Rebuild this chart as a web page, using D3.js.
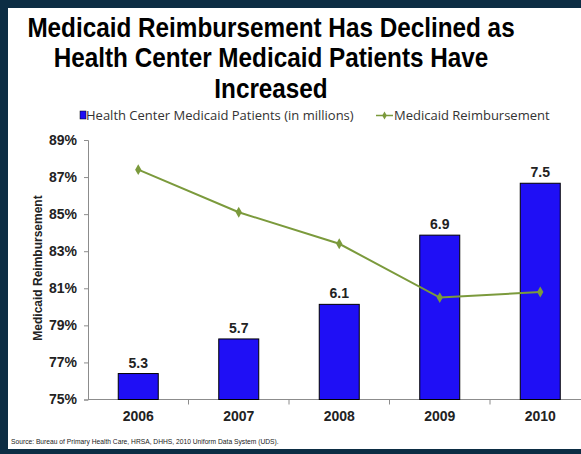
<html>
<style>
  body { margin: 0; background: #fff; }
</style>
<body>
<script src="https://d3js.org/d3.v7.min.js" charset="utf-8"></script>
<svg id="chart" width="581" height="454"></svg>
<script>
// chart data
var years = ["2006", "2007", "2008", "2009", "2010"];
var patients = [5.3, 5.7, 6.1, 6.9, 7.5];
var reimbursement = [87.4, 85.1, 83.4, 80.5, 80.8];
var yTicks = [75, 77, 79, 81, 83, 85, 87, 89];
var titleLines = ["Medicaid Reimbursement Has Declined as", "Health Center Medicaid Patients Have", "Increased"];

var svg = d3.select("#chart");

// frame
svg.append("rect").attr("x", 0).attr("y", 0).attr("width", 581).attr("height", 454).attr("fill", "#0c2d44");
svg.append("rect").attr("x", 8).attr("y", 8).attr("width", 600).attr("height", 441).attr("fill", "#fff");

// title (slightly condensed like the original)
svg.append("g").attr("transform", "translate(271,0) scale(0.9,1)")
  .selectAll(".title").data(titleLines).enter().append("text")
  .attr("x", 0).attr("y", function(d, i) { return 37 + i * 30.5; })
  .attr("text-anchor", "middle")
  .style("font-family", "Liberation Sans, Arial, sans-serif")
  .style("font-weight", "bold").style("font-size", "27px")
  .text(function(d) { return d; });

var plotLeft = 88, plotBottom = 399.5, plotTop = 140, bandW = 100.5;
var x = d3.scaleBand().domain(years).range([plotLeft, plotLeft + bandW * 5]).paddingInner(0).paddingOuter(0);
var y = d3.scaleLinear().domain([75, 89]).range([plotBottom, plotTop]);
var y2 = d3.scaleLinear().domain([5, 8]).range([plotBottom, plotTop]);

// y axis
var yAxis = svg.append("g").attr("transform", "translate(" + plotLeft + ",0)")
  .call(d3.axisLeft(y).tickValues(yTicks).tickSize(4).tickPadding(7).tickFormat(function(d) { return d + "%"; }));
yAxis.select(".domain").attr("stroke", "#8c8c8c");
yAxis.selectAll("line").attr("stroke", "#8c8c8c");
yAxis.selectAll("text").style("font-family", "Liberation Sans, Arial, sans-serif")
  .style("font-weight", "bold").style("font-size", "14px").attr("fill", "#222");

// x axis
svg.append("line").attr("x1", plotLeft).attr("x2", 581).attr("y1", plotBottom).attr("y2", plotBottom).attr("stroke", "#8c8c8c");
svg.selectAll(".xtick").data(years.slice(1)).enter().append("line")
  .attr("x1", function(d) { return x(d); }).attr("x2", function(d) { return x(d); })
  .attr("y1", plotBottom).attr("y2", plotBottom + 5).attr("stroke", "#8c8c8c");
svg.selectAll(".xlab").data(years).enter().append("text")
  .attr("x", function(d) { return x(d) + x.bandwidth() / 2; }).attr("y", plotBottom + 21)
  .attr("text-anchor", "middle")
  .style("font-family", "Liberation Sans, Arial, sans-serif")
  .style("font-weight", "bold").style("font-size", "14px").attr("fill", "#222")
  .text(function(d) { return d; });

// y axis title
svg.append("text").attr("transform", "translate(42,268) rotate(-90)")
  .attr("text-anchor", "middle")
  .style("font-family", "Liberation Sans, Arial, sans-serif")
  .style("font-weight", "bold").style("font-size", "12px").attr("fill", "#222")
  .text("Medicaid Reimbursement");

// bars
var barW = 40;
svg.selectAll(".bar").data(patients).enter().append("rect")
  .attr("x", function(d, i) { return x(years[i]) + x.bandwidth() / 2 - barW / 2; })
  .attr("y", function(d) { return y2(d); })
  .attr("width", barW)
  .attr("height", function(d) { return plotBottom - y2(d); })
  .attr("fill", "#1f0ff5").attr("stroke", "#000").attr("stroke-width", 1);

svg.selectAll(".barlab").data(patients).enter().append("text")
  .attr("x", function(d, i) { return x(years[i]) + x.bandwidth() / 2; })
  .attr("y", function(d) { return y2(d) - 6; })
  .attr("text-anchor", "middle")
  .style("font-family", "Liberation Sans, Arial, sans-serif")
  .style("font-weight", "bold").style("font-size", "14px").attr("fill", "#222")
  .text(function(d) { return d.toFixed(1); });

// line
var green = "#7b9a3c";
var line = d3.line()
  .x(function(d, i) { return x(years[i]) + x.bandwidth() / 2; })
  .y(function(d) { return y(d); });
svg.append("path").datum(reimbursement).attr("d", line)
  .attr("fill", "none").attr("stroke", green).attr("stroke-width", 2);
svg.selectAll(".pt").data(reimbursement).enter().append("path")
  .attr("d", d3.symbol().type(d3.symbolDiamond).size(34))
  .attr("transform", function(d, i) { return "translate(" + (x(years[i]) + x.bandwidth() / 2) + "," + y(d) + ")"; })
  .attr("fill", green);

// legend
var lg = svg.append("g").style("font-family", "Open Sans, Liberation Sans, sans-serif").style("font-size", "13px").attr("fill", "#333");
lg.append("rect").attr("x", 80).attr("y", 111).attr("width", 6).attr("height", 8).attr("fill", "#1f0ff5").attr("stroke", "#000").attr("stroke-width", 0.5);
lg.append("text").attr("x", 86).attr("y", 120).text("Health Center Medicaid Patients (in millions)");
lg.append("line").attr("x1", 376).attr("x2", 393).attr("y1", 115.5).attr("y2", 115.5).attr("stroke", green).attr("stroke-width", 1.5);
lg.append("path").attr("d", d3.symbol().type(d3.symbolDiamond).size(18)).attr("transform", "translate(384.5,115.5)").attr("fill", green);
lg.append("text").attr("x", 394).attr("y", 120).text("Medicaid Reimbursement");

// source
svg.append("text").attr("x", 11).attr("y", 444)
  .style("font-family", "Liberation Sans, Arial, sans-serif").style("font-size", "6.7px").attr("fill", "#222")
  .text("Source: Bureau of Primary Health Care, HRSA, DHHS, 2010 Uniform Data System (UDS).");
</script>
</body>
</html>
